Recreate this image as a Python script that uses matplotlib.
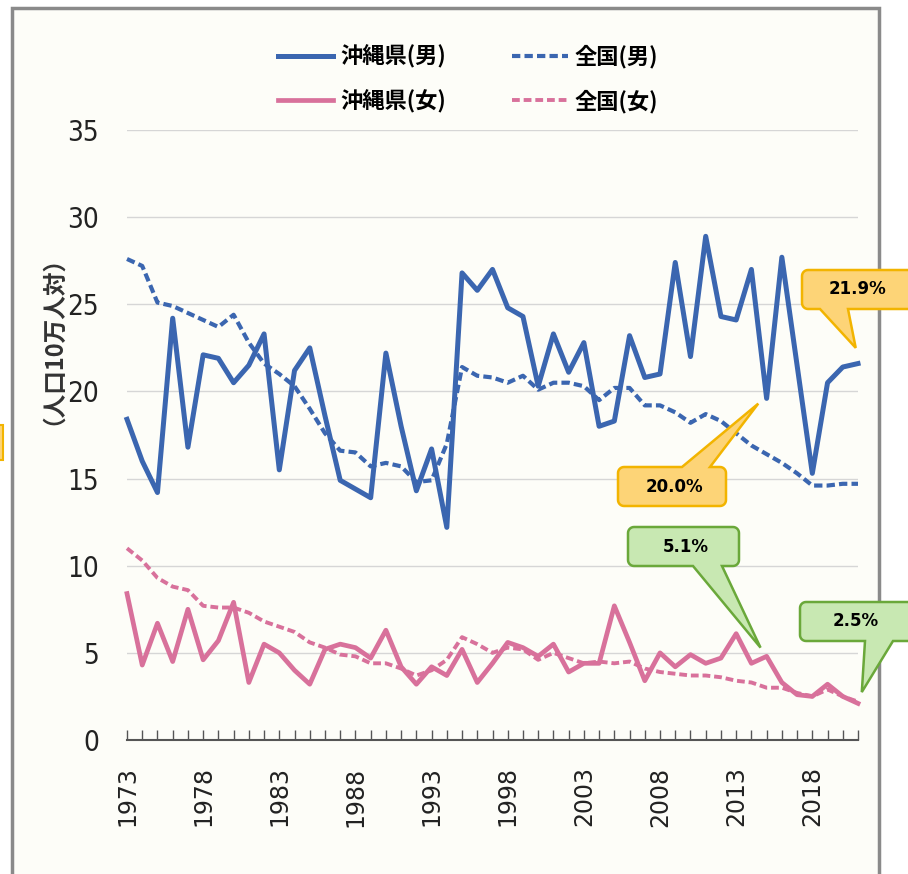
import matplotlib
matplotlib.use("Agg")
import matplotlib.pyplot as plt
from matplotlib.patches import Polygon, Rectangle
from matplotlib import font_manager
import numpy as np

plt.rcParams['font.family'] = ['Noto Sans CJK JP', 'DejaVu Sans']

# ---- data (per 100k population) ----
years = list(range(1973, 2022))

okinawa_m = [18.4, 16.0, 14.2, 24.2, 16.8, 22.1, 21.9, 20.5, 21.5, 23.3,
             15.5, 21.2, 22.5, 18.6, 14.9, 14.4, 13.9, 22.2, 18.0, 14.3,
             16.7, 12.2, 26.8, 25.8, 27.0, 24.8, 24.3, 20.3, 23.3, 21.1,
             22.8, 18.0, 18.3, 23.2, 20.8, 21.0, 27.4, 22.0, 28.9, 24.3,
             24.1, 27.0, 19.6, 27.7, 21.5, 15.3, 20.5, 21.4, 21.6]

national_m = [27.6, 27.2, 25.1, 24.9, 24.5, 24.1, 23.7, 24.4, 22.8, 21.6,
              21.0, 20.3, 19.0, 17.6, 16.6, 16.5, 15.7, 15.9, 15.7, 14.8,
              14.9, 17.0, 21.4, 20.9, 20.8, 20.5, 20.9, 20.1, 20.5, 20.5,
              20.3, 19.5, 20.2, 20.2, 19.2, 19.2, 18.8, 18.2, 18.7, 18.3,
              17.6, 16.9, 16.4, 15.9, 15.3, 14.6, 14.6, 14.7, 14.7]

okinawa_f = [8.4, 4.3, 6.7, 4.5, 7.5, 4.6, 5.7, 7.9, 3.3, 5.5,
             5.0, 4.0, 3.2, 5.2, 5.5, 5.3, 4.7, 6.3, 4.2, 3.2,
             4.2, 3.7, 5.2, 3.3, 4.4, 5.6, 5.3, 4.8, 5.5, 3.9,
             4.4, 4.4, 7.7, 5.6, 3.4, 5.0, 4.2, 4.9, 4.4, 4.7,
             6.1, 4.4, 4.8, 3.3, 2.6, 2.5, 3.2, 2.5, 2.1]

national_f = [11.0, 10.3, 9.3, 8.8, 8.6, 7.7, 7.6, 7.6, 7.3, 6.8,
              6.5, 6.2, 5.6, 5.3, 4.9, 4.8, 4.4, 4.4, 4.1, 3.7,
              4.0, 4.6, 5.9, 5.5, 5.0, 5.3, 5.2, 4.6, 5.0, 4.7,
              4.4, 4.5, 4.4, 4.5, 4.1, 3.9, 3.8, 3.7, 3.7, 3.6,
              3.4, 3.3, 3.0, 3.0, 2.7, 2.5, 2.9, 2.5, 2.2]

labels = ["沖縄県(男)", "沖縄県(女)", "全国(男)", "全国(女)"]
callout_texts = ["21.9%", "20.0%", "5.1%", "2.5%"]
y_label = "（人口10万人対）"

W, H = 908, 874
BLUE = "#3b66b0"
PINK = "#d8719b"

# pick a narrow face for the y tick numbers if one is installed
names = {f.name for f in font_manager.fontManager.ttflist}
narrow = [n for n in ["Liberation Sans Narrow", "DejaVu Sans Condensed"] if n in names]
ytick_family = narrow[0] if narrow else "DejaVu Sans"


def fp(x, y):
    # pixel (from top-left) -> figure fraction
    return (x / W, 1 - y / H)


fig = plt.figure(figsize=(W / 100, H / 100), dpi=100, facecolor="white")

# outer frame of the picture
fig.patches.append(Rectangle(fp(12, 890), (879 - 12) / W, (890 - 8) / H,
                             transform=fig.transFigure, facecolor="#fdfdf8",
                             edgecolor="#8a8a8a", lw=2.5, zorder=-2))
fig.patches.append(Rectangle(fp(-2, 460), 5 / W, 35 / H, transform=fig.transFigure,
                             facecolor="#fdd477", edgecolor="#f2b400", lw=1.5, zorder=-1))

ax = fig.add_axes([127 / W, 1 - 740 / H, (858 - 127) / W, 610 / H])
ax.set_facecolor("none")

ax.plot(years, okinawa_m, color=BLUE, lw=3.6, label=labels[0], clip_on=False,
        solid_joinstyle="round", zorder=4)
ax.plot(years, okinawa_f, color=PINK, lw=3.4, label=labels[1], clip_on=False,
        solid_joinstyle="round", zorder=4)
ax.plot(years, national_m, color=BLUE, lw=3.0, ls=(0, (2.0, 1.0)), label=labels[2],
        clip_on=False, zorder=3)
ax.plot(years, national_f, color=PINK, lw=2.8, ls=(0, (2.0, 1.0)), label=labels[3],
        clip_on=False, zorder=3)

ax.set_xlim(1973, 2021)
ax.set_ylim(0, 35)
ax.set_yticks(range(0, 36, 5))
ax.yaxis.grid(True, color="#d6d6d6", lw=1)
ax.set_axisbelow(True)
for s in ["top", "right", "left"]:
    ax.spines[s].set_visible(False)
ax.spines["bottom"].set_color("#555555")
ax.spines["bottom"].set_linewidth(1.5)

ax.set_xticks(years)
ax.set_xticklabels([str(y) if (y - 1973) % 5 == 0 else "" for y in years],
                   rotation=90, fontsize=17, family="DejaVu Sans", color="#222222")
ax.tick_params(axis="x", direction="in", length=7, width=1, color="#555555", pad=19)
ax.tick_params(axis="y", length=0, pad=20)
for t in ax.get_yticklabels():
    t.set_fontfamily(ytick_family)
    t.set_fontstretch("condensed")
    t.set_fontsize(20)
    t.set_color("#222222")

fig.text(*fp(41, 328), y_label, rotation=90, fontsize=17, fontweight="bold",
         ha="center", va="center", color="#333333")

fig.legend(loc="center", bbox_to_anchor=fp(468, 79), ncol=2, frameon=False,
           prop={"size": 16, "weight": "bold"}, handlelength=2.5,
           columnspacing=3.0, labelspacing=0.95, handletextpad=0.3)


def callout(box, edge, base, tip, text, fc, ec):
    x0, y0, x1, y1 = box
    r = 6
    def arc(cx, cy, a0, a1):
        t = np.radians(np.linspace(a0, a1, 8))
        return list(zip(cx + r * np.cos(t), cy + r * np.sin(t)))
    pts = arc(x0 + r, y0 + r, 180, 270)
    if edge == "top":
        pts += [(base[0], y0), tip, (base[1], y0)]
    pts += arc(x1 - r, y0 + r, 270, 360)
    pts += arc(x1 - r, y1 - r, 0, 90)
    if edge == "bottom":
        pts += [(base[1], y1), tip, (base[0], y1)]
    pts += arc(x0 + r, y1 - r, 90, 180)
    fig.patches.append(Polygon([fp(px, py) for px, py in pts], closed=True,
                               transform=fig.transFigure, facecolor=fc,
                               edgecolor=ec, lw=1.8, zorder=5))
    fig.text(*fp((x0 + min(x1, W)) / 2 + 2, (y0 + y1) / 2), text, ha="center",
             va="center", fontsize=12, fontweight="bold", family="DejaVu Sans",
             color="black", zorder=6)


def tip_px(x, y):
    dx, dy = ax.transData.transform((x, y))
    return (dx, H - dy)


ORANGE_FC, ORANGE_EC = "#fdd477", "#f2b400"
GREEN_FC, GREEN_EC = "#c8e8b2", "#6aa83a"

callout((802, 270, 915, 309), "bottom", (820, 848), tip_px(2020.85, 22.5),
        callout_texts[0], ORANGE_FC, ORANGE_EC)
callout((618, 467, 726, 506), "top", (682, 710), tip_px(2014.45, 19.3),
        callout_texts[1], ORANGE_FC, ORANGE_EC)
callout((628, 527, 739, 566), "bottom", (693, 722), tip_px(2014.6, 5.3),
        callout_texts[2], GREEN_FC, GREEN_EC)
callout((800, 602, 915, 641), "bottom", (865, 893), tip_px(2021.25, 2.75),
        callout_texts[3], GREEN_FC, GREEN_EC)

fig.savefig("out.png", dpi=100)
